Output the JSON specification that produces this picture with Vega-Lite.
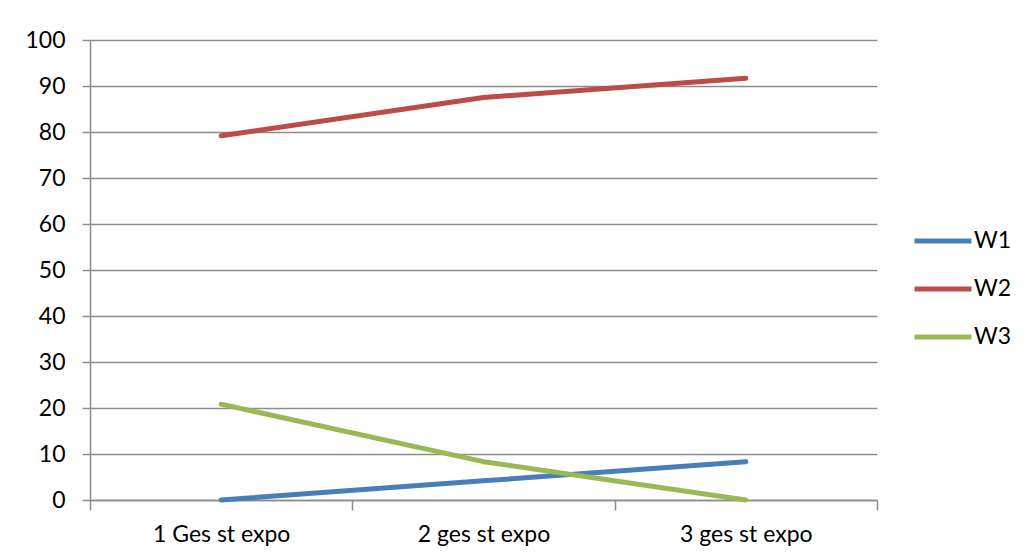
{
  "$schema": "https://vega.github.io/schema/vega-lite/v6.json",
  "autosize": {"type": "none"},
  "padding": {"left": 90, "top": 40, "right": 149, "bottom": 59},
  "width": 787,
  "height": 460,
  "background": "white",
  "config": {
    "view": {"stroke": null},
    "font": "Lato",
    "axis": {"labelFont": "Lato", "labelFontSize": 23, "labelColor": "#000000", "domainColor": "#8c8c8c", "tickColor": "#8c8c8c", "gridColor": "#8c8c8c", "domainWidth": 1.5, "tickWidth": 1.5, "gridWidth": 1.5}
  },
  "data": {
    "values": [
      {"cat": "1 Ges st expo", "series": "W1", "value": 0},
      {"cat": "2 ges st expo", "series": "W1", "value": 4.17},
      {"cat": "3 ges st expo", "series": "W1", "value": 8.33},
      {"cat": "1 Ges st expo", "series": "W2", "value": 79.17},
      {"cat": "2 ges st expo", "series": "W2", "value": 87.5},
      {"cat": "3 ges st expo", "series": "W2", "value": 91.67},
      {"cat": "1 Ges st expo", "series": "W3", "value": 20.83},
      {"cat": "2 ges st expo", "series": "W3", "value": 8.33},
      {"cat": "3 ges st expo", "series": "W3", "value": 0}
    ]
  },
  "mark": {"type": "line", "strokeWidth": 5, "strokeCap": "round", "strokeJoin": "round"},
  "encoding": {
    "x": {
      "field": "cat", "type": "nominal", "sort": null,
      "scale": {"type": "band", "paddingInner": 0, "paddingOuter": 0},
      "axis": {"title": null, "labelAngle": 0, "tickBand": "extent", "tickSize": 10, "labelPadding": 13, "grid": false}
    },
    "y": {
      "field": "value", "type": "quantitative",
      "scale": {"domain": [0, 100], "nice": false},
      "axis": {"title": null, "values": [0,10,20,30,40,50,60,70,80,90,100], "tickSize": 8, "labelPadding": 17, "grid": true}
    },
    "color": {
      "field": "series", "type": "nominal",
      "scale": {"domain": ["W1", "W2", "W3"], "range": ["#4a7ebb", "#be4b48", "#98b954"]},
      "legend": {
        "title": null, "orient": "none", "legendX": 822, "legendY": 170,
        "symbolType": "stroke", "symbolSize": 3249, "symbolStrokeWidth": 5,
        "labelFont": "Lato", "labelFontSize": 23, "labelColor": "#000000", "labelOffset": 0,
        "rowPadding": 5
      }
    }
  }
}
